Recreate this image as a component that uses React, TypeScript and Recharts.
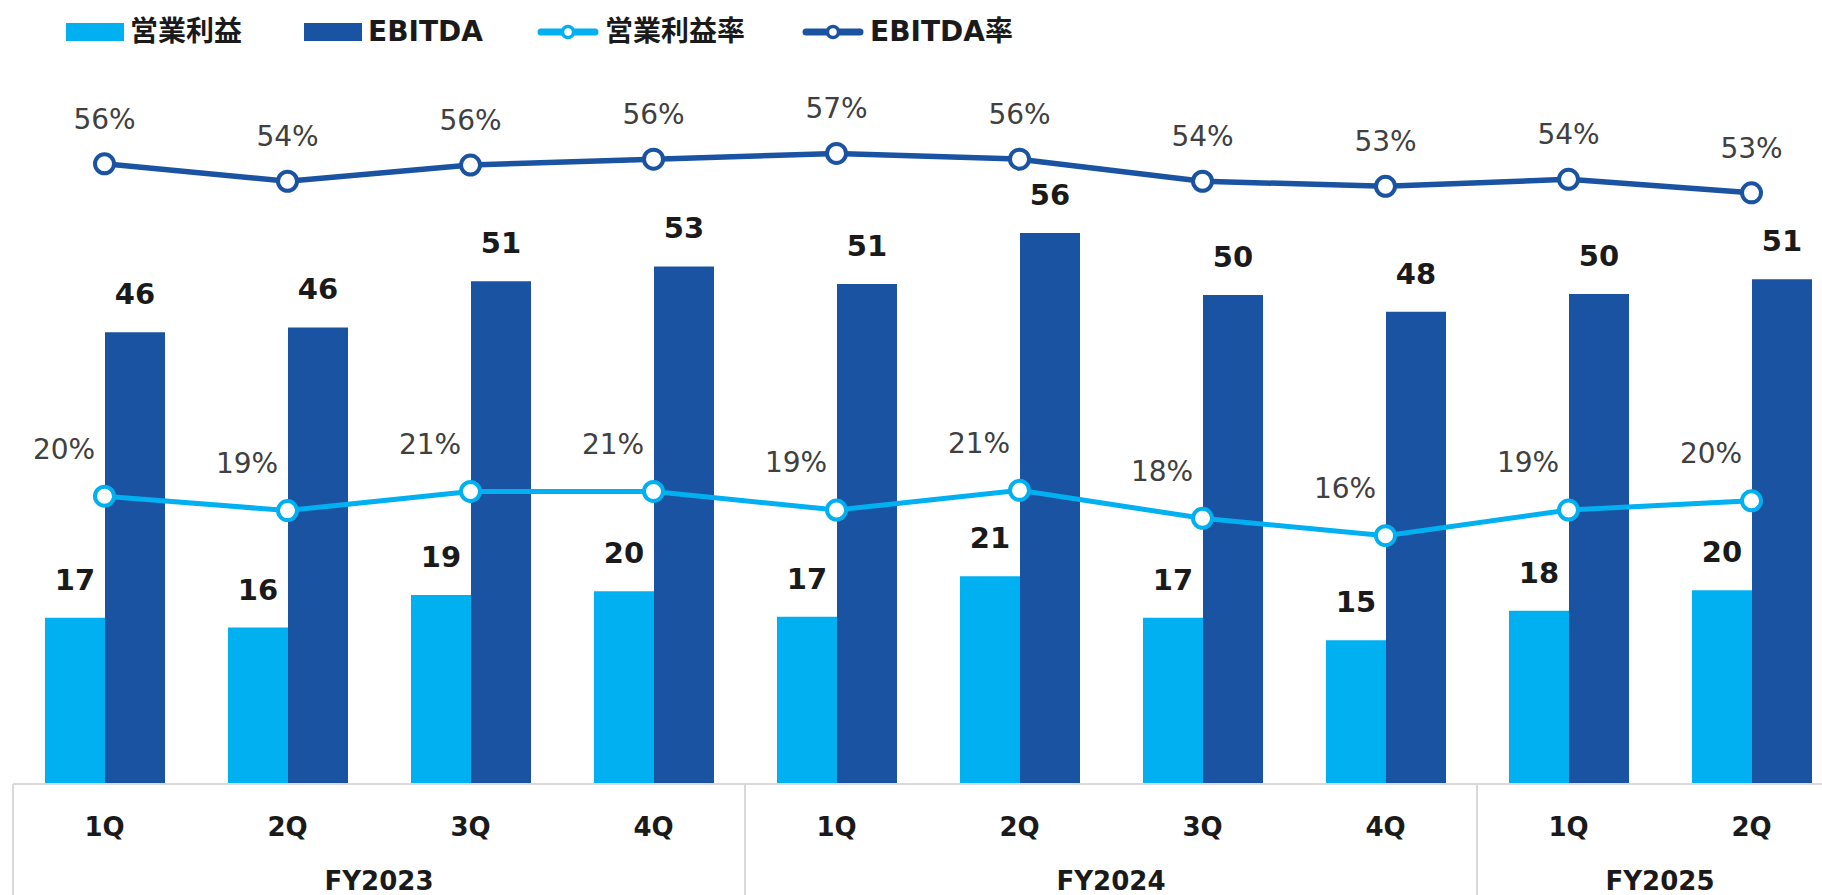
import React from 'react';
import { ComposedChart, Bar, Line, XAxis, YAxis, LabelList, Legend } from 'recharts';

// ---- data ----
const quarters = ['1Q', '2Q', '3Q', '4Q', '1Q', '2Q', '3Q', '4Q', '1Q', '2Q'];
const fiscalYears = ['FY2023', 'FY2023', 'FY2023', 'FY2023', 'FY2024', 'FY2024', 'FY2024', 'FY2024', 'FY2025', 'FY2025'];
const operatingProfit = [16.9, 15.9, 19.2, 19.6, 17.0, 21.1, 16.9, 14.6, 17.6, 19.7];
const ebitda = [45.9, 46.4, 51.1, 52.6, 50.8, 56.0, 49.7, 48.0, 49.8, 51.3];
const operatingMargin = [20.05, 18.5, 20.56, 20.56, 18.56, 20.68, 17.67, 15.8, 18.56, 19.56];
const ebitdaMargin = [55.87, 53.99, 55.74, 56.37, 56.99, 56.37, 53.99, 53.45, 54.2, 52.74];
const seriesNames = ['営業利益', 'EBITDA', '営業利益率', 'EBITDA率'];

const data = quarters.map((q, i) => ({
  quarter: q,
  fy: fiscalYears[i],
  op: operatingProfit[i],
  ebitda: ebitda[i],
  opRate: operatingMargin[i],
  ebitdaRate: ebitdaMargin[i],
}));

// ---- layout / style ----
const LIGHT = '#00b0f0';
const DARK = '#1a53a1';
const GRID = '#d9d9d9';
const FONT = "'DejaVu Sans', 'Noto Sans CJK JP', sans-serif";
const CHART_W = 1843;
const CHART_H = 895;
const MARGIN = { top: 2, right: 0, left: 13, bottom: 0 };
const X_H = 111;
const AXIS_TOP = CHART_H - MARGIN.bottom - X_H;
const BAND = (CHART_W - MARGIN.left - MARGIN.right) / quarters.length;

const QuarterTick = (props: any) => {
  const { x, payload } = props;
  const i: number = payload.index;
  const left = x - BAND / 2;
  const isStart = i === 0 || fiscalYears[i] !== fiscalYears[i - 1];
  let n = 0;
  if (isStart) {
    while (i + n < fiscalYears.length && fiscalYears[i + n] === fiscalYears[i]) n++;
  }
  return (
    <g>
      <text x={x} y={AXIS_TOP + 52} textAnchor="middle" fontFamily={FONT} fontSize={26} fontWeight="bold" fill="#1a1a1a">
        {payload.value}
      </text>
      {isStart && (
        <>
          <line x1={left} x2={left} y1={AXIS_TOP} y2={CHART_H} stroke={GRID} strokeWidth={2} />
          <text x={left + (n * BAND) / 2} y={AXIS_TOP + 106} textAnchor="middle" fontFamily={FONT} fontSize={26} fontWeight="bold" fill="#1a1a1a">
            {fiscalYears[i]}
          </text>
        </>
      )}
    </g>
  );
};

const BarValueLabel = (props: any) => {
  const { x, y, width, value } = props;
  return (
    <text x={Number(x) + Number(width) / 2} y={Number(y) - 28} textAnchor="middle" fontFamily={FONT} fontSize={29} fontWeight="bold" fill="#1a1a1a">
      {Math.round(Number(value))}
    </text>
  );
};

const makeRateLabel = (dx: number, dy: number) => (props: any) => {
  const { x, y, value } = props;
  return (
    <text x={Number(x) + dx} y={Number(y) - dy} textAnchor="middle" fontFamily={FONT} fontSize={28} fill="#404040">
      {`${Math.round(Number(value))}%`}
    </text>
  );
};
const EbitdaRateLabel = makeRateLabel(0, 35);
const OpRateLabel = makeRateLabel(-40.5, 37.7);

const LegendContent = () => {
  const items = [
    { left: 66, kind: 'rect', color: LIGHT, label: seriesNames[0] },
    { left: 304, kind: 'rect', color: DARK, label: seriesNames[1] },
    { left: 537, kind: 'line', color: LIGHT, label: seriesNames[2] },
    { left: 802, kind: 'line', color: DARK, label: seriesNames[3] },
  ];
  return (
    <div style={{ position: 'relative', width: 1100, height: 60 }}>
      {items.map((it) => (
        <div key={it.label} style={{ position: 'absolute', left: it.left, top: 0, height: 60, display: 'flex', alignItems: 'center' }}>
          {it.kind === 'rect' ? (
            <svg width={58} height={20} style={{ display: 'block' }}>
              <rect x={0} y={1} width={58} height={18} fill={it.color} />
            </svg>
          ) : (
            <svg width={62} height={20} style={{ display: 'block' }}>
              <line x1={4} x2={58} y1={10} y2={10} stroke={it.color} strokeWidth={7} strokeLinecap="round" />
              <circle cx={31} cy={10} r={5.5} fill="#fff" stroke={it.color} strokeWidth={3.5} />
            </svg>
          )}
          <span style={{ marginLeft: 6, fontFamily: FONT, fontSize: 28, fontWeight: 'bold', color: '#1a1a1a', lineHeight: '60px' }}>
            {it.label}
          </span>
        </div>
      ))}
    </div>
  );
};

export default function App() {
  return (
    <div style={{ position: 'absolute', left: 0, top: 0, width: 1822, height: 895, overflow: 'hidden', background: '#fff' }}>
      <ComposedChart
        width={CHART_W}
        height={CHART_H}
        data={data}
        margin={MARGIN}
        barCategoryGap={32}
        barGap={0}
      >
        <Legend verticalAlign="top" align="left" wrapperStyle={{ left: 0, top: 2 }} content={() => <LegendContent />} />
        <XAxis
          dataKey="quarter"
          xAxisId={0}
          height={X_H}
          interval={0}
          tickLine={false}
          axisLine={{ stroke: GRID, strokeWidth: 2 }}
          tick={<QuarterTick />}
        />
        <YAxis yAxisId="left" hide domain={[0, 73.37]} allowDataOverflow />
        <YAxis yAxisId="right" orientation="right" hide domain={[-10.96, 66.84]} allowDataOverflow />
        <Bar yAxisId="left" dataKey="op" name={seriesNames[0]} fill={LIGHT} isAnimationActive={false}>
          <LabelList dataKey="op" content={<BarValueLabel />} />
        </Bar>
        <Bar yAxisId="left" dataKey="ebitda" name={seriesNames[1]} fill={DARK} isAnimationActive={false}>
          <LabelList dataKey="ebitda" content={<BarValueLabel />} />
        </Bar>
        <Line
          yAxisId="right"
          dataKey="opRate"
          name={seriesNames[2]}
          stroke={LIGHT}
          strokeWidth={5}
          dot={{ r: 9.5, fill: '#fff', stroke: LIGHT, strokeWidth: 4 }}
          activeDot={false}
          isAnimationActive={false}
        >
          <LabelList dataKey="opRate" content={<OpRateLabel />} />
        </Line>
        <Line
          yAxisId="right"
          dataKey="ebitdaRate"
          name={seriesNames[3]}
          stroke={DARK}
          strokeWidth={5.5}
          dot={{ r: 9.5, fill: '#fff', stroke: DARK, strokeWidth: 4 }}
          activeDot={false}
          isAnimationActive={false}
        >
          <LabelList dataKey="ebitdaRate" content={<EbitdaRateLabel />} />
        </Line>
      </ComposedChart>
    </div>
  );
}
